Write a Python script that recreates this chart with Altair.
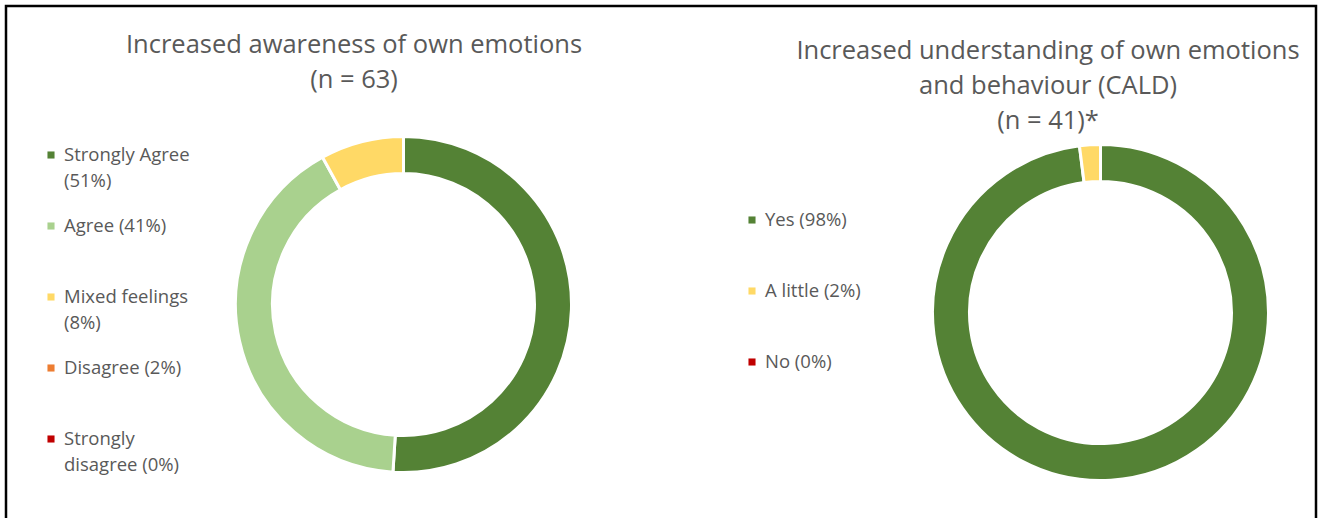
import altair as alt
import pandas as pd

# ---- data ----
cats1 = ["Strongly Agree", "Agree", "Mixed feelings", "Disagree", "Strongly disagree"]
vals1 = [51, 41, 8, 0, 0]
labels1 = ["Strongly Agree\n(51%)", "Agree (41%)", "Mixed feelings\n(8%)", "Disagree (2%)", "Strongly\ndisagree (0%)"]
colors1 = ["#548235", "#A9D18E", "#FFD966", "#ED7D31", "#C00000"]
title1 = ["Increased awareness of own emotions", "(n = 63)"]

cats2 = ["Yes", "A little", "No"]
vals2 = [98, 2, 0]
labels2 = ["Yes (98%)", "A little (2%)", "No (0%)"]
colors2 = ["#548235", "#FFD966", "#C00000"]
title2 = ["Increased understanding of own emotions", "and behaviour (CALD)", "(n = 41)*"]

FONT = "Open Sans"
TXT = "#595959"

df1 = pd.DataFrame({"cat": cats1, "value": vals1, "label": labels1, "idx": range(len(cats1))})
df2 = pd.DataFrame({"cat": cats2, "value": vals2, "label": labels2, "idx": range(len(cats2))})


def donut(df, cats, colors, cx, cy):
    return alt.Chart(df).mark_arc(innerRadius=131, outerRadius=168, stroke="white", strokeWidth=3).encode(
        theta=alt.Theta("value:Q", stack=True),
        color=alt.Color("cat:N", scale=alt.Scale(domain=cats, range=colors), legend=None),
        order=alt.Order("idx:Q"),
        x=alt.value(cx),
        y=alt.value(cy),
    )


def legend(df, cats, colors, x0, y0, y1):
    yenc = alt.Y("cat:N", sort=cats, scale=alt.Scale(type="point", range=[y0, y1], padding=0), axis=None)
    sym = alt.Chart(df).mark_square(size=50, opacity=1).encode(
        x=alt.value(x0),
        y=yenc,
        color=alt.Color("cat:N", scale=alt.Scale(domain=cats, range=colors), legend=None),
    )
    txt = alt.Chart(df).mark_text(
        align="left", baseline="top", dy=-9, fontSize=18.5, lineHeight=26, lineBreak="\n",
        font=FONT, color=TXT,
    ).encode(x=alt.value(x0 + 13), y=yenc, text="label:N")
    return sym, txt


def title(lines, cx, ytop):
    d = pd.DataFrame({"t": ["\n".join(lines)]})
    return alt.Chart(d).mark_text(
        align="center", baseline="top", fontSize=25.5, lineHeight=35, lineBreak="\n",
        font=FONT, color=TXT,
    ).encode(x=alt.value(cx), y=alt.value(ytop), text="t:N")


border = alt.Chart(pd.DataFrame({"a": [0]})).mark_rect(
    fill=None, stroke="black", strokeWidth=2.5
).encode(x=alt.value(6), x2=alt.value(1316), y=alt.value(6), y2=alt.value(560))

s1, t1 = legend(df1, cats1, colors1, 51, 155, 439)
s2, t2 = legend(df2, cats2, colors2, 752, 220, 362)

chart = alt.layer(
    border,
    donut(df1, cats1, colors1, 403.5, 304.5),
    donut(df2, cats2, colors2, 1100.5, 312.5),
    s1, t1, s2, t2,
    title(title1, 354, 33),
    title(title2, 1048, 39),
).resolve_scale(
    theta="independent", color="independent", y="independent"
).properties(
    width=1321, height=518, autosize=alt.AutoSizeParams(type="none"), padding=0
).configure_view(stroke=None)

chart.save("out.html", embed_options={"renderer": "svg", "actions": False})
